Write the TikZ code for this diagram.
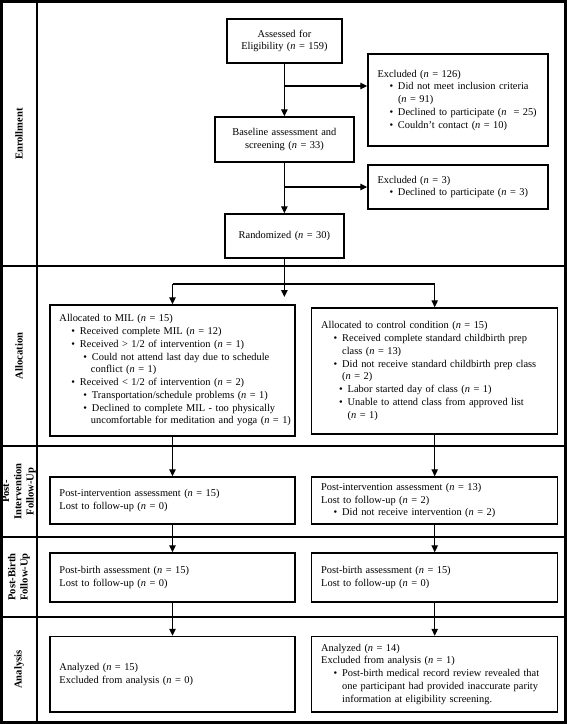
\documentclass[tikz,border=0pt]{standalone}
\usepackage{fontspec}
\setmainfont{Liberation Serif}
\usetikzlibrary{arrows.meta}
\newcommand{\nn}[1]{(\textit{n} = #1)}
\newcommand{\bul}[2]{\\\hspace*{#1}\makebox[8.5pt][l]{\textbullet}\mbox{#2}}
\newcommand{\cont}[2]{\\\hspace*{#1}\mbox{#2}}

\begin{document}
\begin{tikzpicture}[x=1pt,y=-1pt,
    txt/.style={font=\fontsize{10.4}{12.75}\selectfont},
    box/.style={txt,draw,line width=1.5pt,inner xsep=9.5pt,inner ysep=2pt,align=left},
    cbox/.style={box,align=center},
    arr/.style={line width=1.1pt,-{Triangle[length=7pt,width=6.5pt]}},
    band/.style={line width=2.6pt},
    phase/.style={font=\fontsize{10.6}{12.2}\selectfont\bfseries,rotate=90,align=center}]
  \useasboundingbox (0,0) rectangle (567,724);
  % frame and phase bands
  \draw[band] (1.5,1.5) rectangle (565.5,722.5);
  \draw[band] (37,1.5) -- (37,722.5);
  \foreach \y in {266,446,537,617}
    \draw[band] (1.5,\y) -- (565.5,\y);
  \node[phase] (enr) at (19,134) {Enrollment};
  \node[phase] (alloc) at (19,356) {Allocation};
  \node[phase] (postint) at (19,491.5) {Post-\\Intervention\\Follow-Up};
  \node[phase] (postbirth) at (19,577) {Post-Birth\\Follow-Up};
  \node[phase] (anal) at (19,669.5) {Analysis};

  % enrollment
  \node[cbox,text width=96pt,minimum height=44pt] (assess) at (284.4,41) {Assessed for\\Eligibility \nn{159}};
  \node[cbox,text width=120pt,minimum height=45pt] (base) at (284.4,139.5) {Baseline assessment and\\screening \nn{33}};
  \node[cbox,text width=100pt,minimum height=44pt] (rand) at (284.4,236) {Randomized \nn{30}};
  \node[box,text width=161pt,minimum height=92pt] (excl1) at (458,100) {Excluded \nn{126}%
    \bul{12pt}{Did not meet inclusion criteria}\cont{20.5pt}{\nn{91}}%
    \bul{12pt}{Declined to participate (\textit{n}\ \ = 25)}%
    \bul{12pt}{Couldn't contact \nn{10}}};
  \node[box,text width=161pt,minimum height=44pt] (excl2) at (458,187) {Excluded \nn{3}%
    \bul{12pt}{Declined to participate \nn{3}}};

  % allocation
  \node[box,text width=226pt,minimum height=131pt] (mil) at (172.5,370.5) {Allocated to MIL \nn{15}%
    \bul{12pt}{Received complete MIL \nn{12}}%
    \bul{12pt}{Received > 1/2 of intervention \nn{1}}%
    \bul{24pt}{Could not attend last day due to schedule}\cont{31.5pt}{conflict \nn{1}}%
    \bul{12pt}{Received < 1/2 of intervention \nn{2}}%
    \bul{24pt}{Transportation/schedule problems \nn{1}}%
    \bul{24pt}{Declined to complete MIL - too physically}\cont{31.5pt}{uncomfortable for meditation and yoga \nn{1}}};
  \node[box,text width=227pt,minimum height=126pt] (ctrl) at (434.7,371) {Allocated to control condition \nn{15}%
    \bul{12.5pt}{Received complete standard childbirth prep}\cont{21pt}{class \nn{13}}%
    \bul{12.5pt}{Did not receive standard childbirth prep class}\cont{21pt}{\nn{2}}%
    \bul{18pt}{Labor started day of class \nn{1}}%
    \bul{18pt}{Unable to attend class from approved list}\cont{26.5pt}{\nn{1}}};

  % follow-up and analysis
  \node[box,text width=226pt,minimum height=47pt] (pi1) at (172.5,500.5) {Post-intervention assessment \nn{15}\\Lost to follow-up \nn{0}};
  \node[box,text width=227pt,minimum height=47pt] (pi2) at (434.7,500.5) {Post-intervention assessment \nn{13}\\Lost to follow-up \nn{2}%
    \bul{12.5pt}{Did not receive intervention \nn{2}}};
  \node[box,text width=226pt,minimum height=49pt] (pb1) at (172.5,577.5) {Post-birth assessment \nn{15}\\Lost to follow-up \nn{0}};
  \node[box,text width=227pt,minimum height=49pt] (pb2) at (434.7,577.5) {Post-birth assessment \nn{15}\\Lost to follow-up \nn{0}};
  \node[box,text width=226pt,minimum height=75.5pt] (an1) at (172.5,674.25) {Analyzed \nn{15}\\Excluded from analysis \nn{0}};
  \node[box,text width=227pt,minimum height=75.5pt] (an2) at (434.7,674.25) {Analyzed \nn{14}\\Excluded from analysis \nn{1}%
    \bul{12.5pt}{Post-birth medical record review revealed that}%
    \cont{21pt}{one participant had provided inaccurate parity}%
    \cont{21pt}{information at eligibility screening.}};

  % connectors
  \coordinate (split) at (284.4,284);
  \coordinate (stub) at (284.4,297);
  \draw[arr] (assess.south) -- (base.north);
  \draw[arr] (assess.south |- 0,86) -- (excl1.west |- 0,86);
  \draw[arr] (base.south) -- (rand.north);
  \draw[arr] (base.south |- excl2.west) -- (excl2.west);
  \draw[arr] (rand.south) -- (stub);
  \draw[line width=1.1pt] (split -| mil.north) -- (split -| ctrl.north);
  \draw[arr] (split -| mil.north) -- (mil.north);
  \draw[arr] (split -| ctrl.north) -- (ctrl.north);
  \foreach \a/\b in {mil/pi1,pi1/pb1,pb1/an1,ctrl/pi2,pi2/pb2,pb2/an2}
    \draw[arr] (\a.south) -- (\b.north);
\end{tikzpicture}
\end{document}
